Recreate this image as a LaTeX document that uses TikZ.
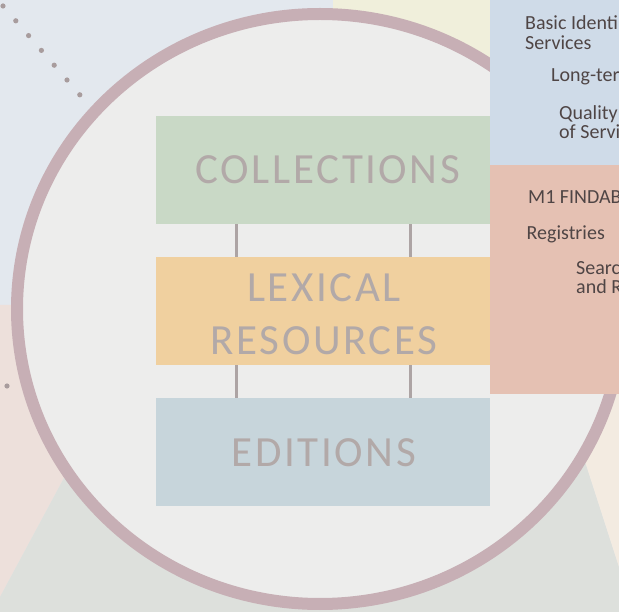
\documentclass[tikz,border=0pt]{standalone}
\usepackage{fontspec}
\setmainfont{Carlito}
\newfontfamily\boxfont[LetterSpace=6]{Carlito}
\definecolor{bgblue}{HTML}{E3E8EE}
\definecolor{bgyellow}{HTML}{F0EFDB}
\definecolor{bgpink}{HTML}{EDE0DB}
\definecolor{bggreen}{HTML}{DDE0DC}
\definecolor{bgbeige}{HTML}{F3EBE1}
\definecolor{discfill}{HTML}{EDEDEC}
\definecolor{ringc}{HTML}{C7AFB5}
\definecolor{collc}{HTML}{C9D9C6}
\definecolor{lexc}{HTML}{F0D09F}
\definecolor{editc}{HTML}{C7D5DB}
\definecolor{linkc}{HTML}{ADA4A4}
\definecolor{boxtext}{HTML}{B2A9A8}
\definecolor{panelblue}{HTML}{CFDBE8}
\definecolor{panelpink}{HTML}{E5C1B3}
\definecolor{paneltext}{HTML}{4F4545}
\definecolor{dotc}{HTML}{A89C9D}
\begin{document}
\begin{tikzpicture}[x=1pt,y=-1pt,
  layerbox/.style={anchor=north west, minimum width=334pt, minimum height=108pt, inner sep=0pt, draw=none},
  boxlabel/.style={anchor=base, inner sep=0pt, text=boxtext, font=\boxfont\fontsize{43}{43}\selectfont},
  link/.style={draw=linkc, line width=3pt},
  panel/.style={anchor=north west, minimum width=129pt, inner sep=0pt, draw=none},
  ptext/.style={anchor=base west, inner sep=0pt, text=paneltext, font=\fontsize{20}{20}\selectfont},
  dot/.style={fill=dotc}
]
\useasboundingbox (0,0) rectangle (619,612);
\clip (0,0) rectangle (619,612);
% background
\fill[bgblue] (0,0) rectangle (619,612);
\fill[bgyellow] (333,0) rectangle (490,200);
\fill[bgpink] (0,305) -- (157,305) -- (0,597) -- cycle;
\fill[bggreen] (0,597) -- (157,305) -- (507,220) -- (590,477) -- (619,567) -- (619,612) -- (0,612) -- cycle;
\fill[bgbeige] (507,220) -- (619,220) -- (619,567) -- (590,477) -- cycle;
% dots
\foreach \i in {0,...,6} \fill[dot] ({3+12.8*\i},{6+14.8*\i}) circle (2.6pt);
\fill[dot] (7,386) circle (2.6pt);
% disc
\draw[ringc, line width=12pt, fill=discfill] (320,309) ellipse [x radius=303pt, y radius=295pt];
% boxes
\node[layerbox, fill=collc] (coll) at (156,116) {};
\node[layerbox, fill=lexc] (lex) at (156,257) {};
\node[layerbox, fill=editc] (edit) at (156,398) {};
\node[boxlabel] (collT) at (328,184) {COLLECTIONS};
\node[boxlabel] (lexT1) at (324,301.5) {LEXICAL};
\node[boxlabel] (lexT2) at (324,355) {RESOURCES};
\node[boxlabel] (editT) at (324,467) {EDITIONS};
% connectors
\coordinate (cl) at (236,0);
\coordinate (cr) at (410,0);
\draw[link] (coll.south -| cl) -- (lex.north -| cl);
\draw[link] (coll.south -| cr) -- (lex.north -| cr);
\draw[link] (lex.south -| cl) -- (edit.north -| cl);
\draw[link] (lex.south -| cr) -- (edit.north -| cr);
% panels
\node[panel, fill=panelblue, minimum height=165pt] (pblue) at (490,0) {};
\node[panel, fill=panelpink, minimum height=229pt] (ppink) at (490,165) {};
\node[ptext] (t1) at (525,30) {Basic Identi};
\node[ptext] (t2) at (525,49.5) {Services};
\node[ptext] (t3) at (551,82) {Long-ter};
\node[ptext] (t4) at (559,120) {Quality};
\node[ptext] (t5) at (559,138.5) {of Servi};
\node[ptext] (t6) at (528,204) {M1 FINDAB};
\node[ptext] (t7) at (526.5,239.5) {Registries};
\node[ptext] (t8) at (576,275) {Searc};
\node[ptext] (t9) at (576,293.5) {and R};
\end{tikzpicture}
\end{document}
